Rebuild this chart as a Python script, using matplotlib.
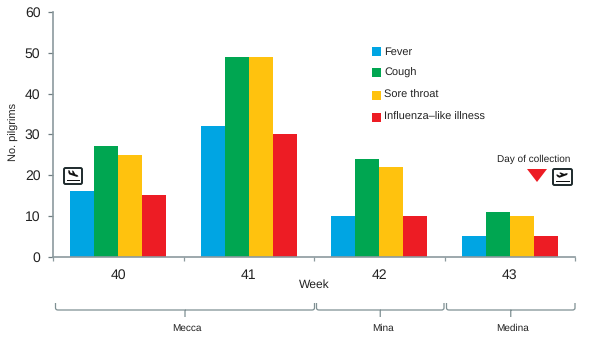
import matplotlib
matplotlib.use("Agg")
import matplotlib.pyplot as plt
from matplotlib.patches import FancyBboxPatch, Polygon, Rectangle, PathPatch
from matplotlib.path import Path
import numpy as np

weeks = ["40", "41", "42", "43"]
fever = [16, 32, 10, 5]
cough = [27, 49, 24, 11]
sore_throat = [25, 49, 22, 10]
ili = [15, 30, 10, 5]
series_names = ["Fever", "Cough", "Sore throat", "Influenza\u2013like illness"]
colors = ["#00A5E3", "#00A651", "#FFC20E", "#ED1C24"]
places = ["Mecca", "Mina", "Medina"]
place_spans = [(55.5, 314.5), (316.5, 444), (446.5, 575)]
place_label_x = [187, 383, 513]

plt.rcParams["font.family"] = ["Liberation Sans", "DejaVu Sans"]
plt.rcParams["text.hinting"] = "none"
plt.rcParams["text.hinting_factor"] = 1
W, H = 600, 358
fig = plt.figure(figsize=(W / 100, H / 100), dpi=100)
L, R, T, B = 53, 575, 12, 256.5
ax = fig.add_axes([L / W, 1 - B / H, (R - L) / W, (B - T) / H])
x = np.arange(len(weeks))
bw = 24 / 130.5
for i, (vals, c) in enumerate(zip([fever, cough, sore_throat, ili], colors)):
    ax.bar(x + (i - 1.5) * bw, vals, width=bw, color=c, linewidth=0)
ax.set_xlim(-0.5, 3.5)
ax.set_ylim(0, 60)
ax.set_yticks(range(0, 61, 10))
ax.set_xticks([-0.5, 0.5, 1.5, 2.5, 3.5])
ax.set_xticklabels([])
for s in ["top", "right"]:
    ax.spines[s].set_visible(False)
gray = "#8C9A9E"
for s in ["left", "bottom"]:
    ax.spines[s].set_color(gray)
    ax.spines[s].set_linewidth(1.2)
ax.tick_params(axis="y", direction="out", length=3.6, width=0.9, color="#6E7C80",
               labelsize=9.8, labelcolor="#222222", pad=5.5)
ax.tick_params(axis="x", direction="out", length=3.2, width=0.9, color=gray)

ov = fig.add_axes([0, 0, 1, 1], facecolor="none")
ov.set_xlim(0, W)
ov.set_ylim(H, 0)
ov.axis("off")

ov.text(13.5, 132, "No. pilgrims", rotation=90, ha="center", va="center", fontsize=8.0, color="#222222")

for xi, w in zip(x, weeks):
    ax.annotate(w, (xi, 0), xycoords="data", xytext=(0, -8.8), textcoords="offset points",
                ha="center", va="top", fontsize=9.8, color="#222222")
ov.text(314.5, 285, "Week", ha="center", va="center", fontsize=8.6, color="#222222")

leg_y = [51.5, 72.5, 95, 117]
for y, c, n in zip(leg_y, colors, series_names):
    ov.add_patch(Rectangle((372, y - 4.5), 9, 9, color=c, lw=0))
    ov.text(384, y + 0.5, n, ha="left", va="center", fontsize=7.95, color="#222222")

bc = "#7F9093"
for (a, b), lx, name in zip(place_spans, place_label_x, places):
    m = (a + b) / 2
    verts = [(a, 303), (a, 308), (a, 310), (a + 2.5, 310), (m, 310), (m, 317),
             (m, 310), (b - 2.5, 310), (b, 310), (b, 308), (b, 303)]
    codes = [Path.MOVETO, Path.LINETO, Path.CURVE3, Path.CURVE3, Path.LINETO, Path.LINETO,
             Path.MOVETO, Path.LINETO, Path.CURVE3, Path.CURVE3, Path.LINETO]
    ov.add_patch(PathPatch(Path(verts, codes), fc="none", ec=bc, lw=0.9))
    ov.text(lx, 328.5, name, ha="center", va="center", fontsize=7.5, color="#222222")

ov.text(534, 159, "Day of collection", ha="center", va="center", fontsize=7.2, color="#222222")
ov.add_patch(Polygon([(527, 169), (547, 169), (537, 182)], closed=True, color="#ED1C24", lw=0))

plane = np.array([(-7, -0.6), (-8, -4), (-6.3, -4), (-4, -1.3), (-1, -1.3), (-3, -5), (-1, -5),
                  (3, -1.3), (6, -1.3), (8, 0), (6, 1.4), (-5, 1.4)], dtype=float)

def icon(x0, y0, w, h, deg):
    ov.add_patch(FancyBboxPatch((x0 + 1, y0 + 1), w - 2, h - 2, boxstyle="round,pad=0,rounding_size=1.5",
                                fc="white", ec="#1E2A2C", lw=1.4))
    t = np.radians(deg)
    rot = np.array([[np.cos(t), -np.sin(t)], [np.sin(t), np.cos(t)]])
    pts = plane @ rot.T * 0.72 + [x0 + w / 2, y0 + h * 0.42]
    ov.add_patch(Polygon(pts, closed=True, fc="#111111", ec="none"))
    ov.add_patch(Rectangle((x0 + 3.5, y0 + h - 5.5), w - 7, 1.6, color="#111111", lw=0))

icon(63, 167, 20, 18, 18)
icon(552, 168, 21, 18, -20)

fig.savefig("out.png", dpi=100)
